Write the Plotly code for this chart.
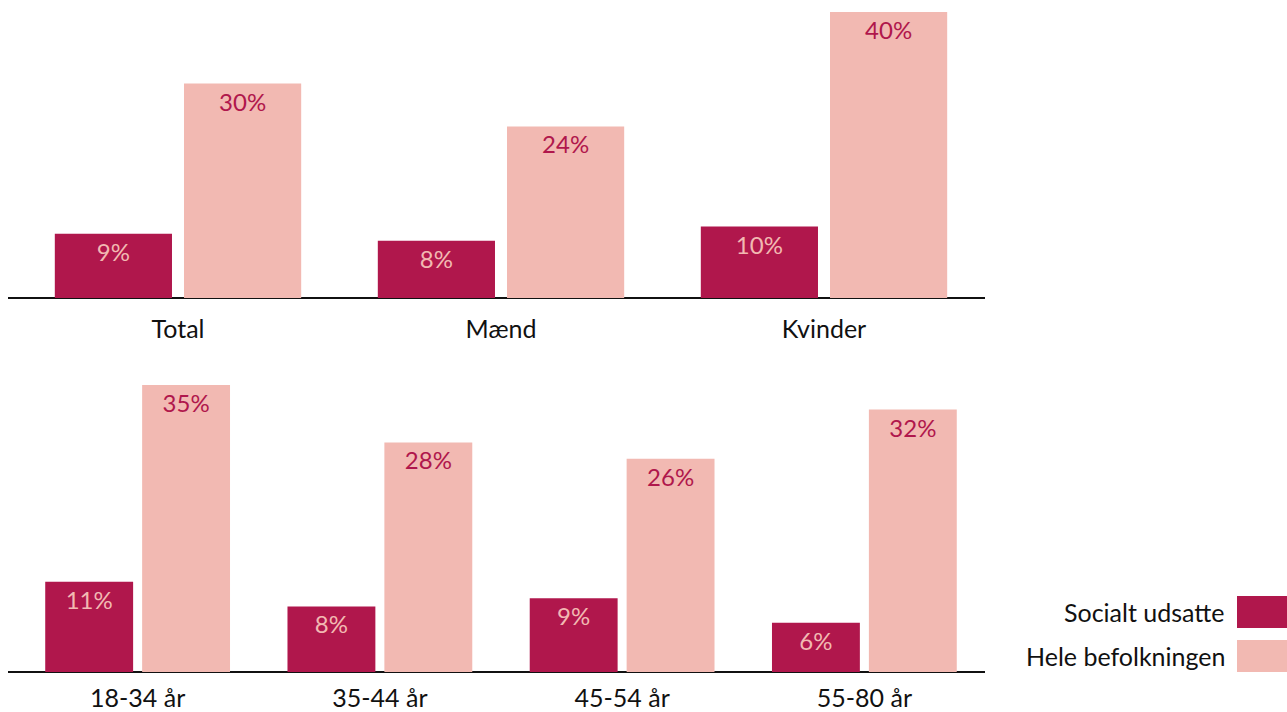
import plotly.graph_objects as go

# data
groups_top = ["Total", "Mænd", "Kvinder"]
udsatte_top = [9, 8, 10]
befolkning_top = [30, 24, 40]

groups_age = ["18-34 år", "35-44 år", "45-54 år", "55-80 år"]
udsatte_age = [11, 8, 9, 6]
befolkning_age = [35, 28, 26, 32]

series_names = ["Socialt udsatte", "Hele befolkningen"]

DARK = "#B0174C"
LIGHT = "#F2B9B2"
FONT = "Lato"
W, H = 1287, 712

fig = go.Figure()


def add_bars(cats, vals, name, color, txtcolor, xa, ya):
    fig.add_trace(go.Bar(
        x=cats, y=vals, name=name, marker_color=color, marker_line_width=0,
        text=[f"{v}%" for v in vals], textposition="inside", insidetextanchor="end",
        textfont=dict(color=txtcolor, size=24, family=FONT),
        xaxis=xa, yaxis=ya, showlegend=False, cliponaxis=False,
    ))


add_bars(groups_top, udsatte_top, series_names[0], DARK, LIGHT, "x", "y")
add_bars(groups_top, befolkning_top, series_names[1], LIGHT, DARK, "x", "y")
add_bars(groups_age, udsatte_age, series_names[0], DARK, LIGHT, "x2", "y2")
add_bars(groups_age, befolkning_age, series_names[1], LIGHT, DARK, "x2", "y2")

xdom = [16.5 / W, 985.5 / W]
axis_common = dict(showgrid=False, zeroline=False, showline=False, ticks="",
                   tickfont=dict(size=25, family=FONT, color="#111"),
                   automargin=False)
yaxis_common = dict(visible=False, showgrid=False, zeroline=False)

# baselines
shapes = []
for ybase in [298, 672]:
    yp = (H - ybase) / H
    shapes.append(dict(type="line", xref="paper", yref="paper", x0=8 / W, x1=985 / W,
                       y0=yp, y1=yp, line=dict(color="#111", width=2), layer="below"))

# legend boxes with labels on the left
annotations = []
colors = [DARK, LIGHT]
for i, (nm, c) in enumerate(zip(series_names, colors)):
    top = 596 + i * 44
    shapes.append(dict(type="rect", xref="paper", yref="paper", x0=1237 / W, x1=1.0,
                       y0=(H - top - 32) / H, y1=(H - top) / H, fillcolor=c,
                       line_width=0))
    annotations.append(dict(text=nm, xref="paper", yref="paper", x=1227 / W,
                            y=(H - top - 16) / H, xanchor="right", yanchor="middle",
                            showarrow=False, font=dict(size=25, family=FONT, color="#111")))

fig.update_layout(
    width=W, height=H,
    margin=dict(l=0, r=0, t=0, b=0),
    paper_bgcolor="white", plot_bgcolor="white",
    barmode="group", bargap=0.2, bargroupgap=0.093,
    font=dict(family=FONT),
    xaxis=dict(domain=xdom, anchor="y", ticklabelstandoff=14, **axis_common),
    yaxis=dict(domain=[(H - 298) / H, 1.0], range=[0, 298 / 7.15], anchor="x", **yaxis_common),
    xaxis2=dict(domain=xdom, anchor="y2", ticklabelstandoff=9, **axis_common),
    yaxis2=dict(domain=[(H - 672) / H, (H - 360) / H], range=[0, 312 / 8.2], anchor="x2",
                **yaxis_common),
    shapes=shapes,
    annotations=annotations,
    uniformtext=dict(mode="show", minsize=10),
)

fig.write_html("out.html", config={"displayModeBar": False},
               post_script="document.body.style.margin='0px';document.body.style.overflow='hidden';")
